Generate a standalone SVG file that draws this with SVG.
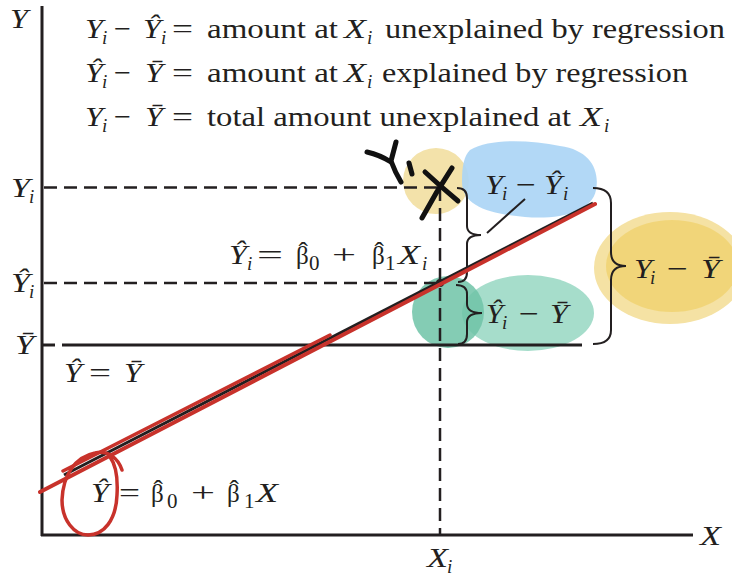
<svg xmlns="http://www.w3.org/2000/svg" width="732" height="576" viewBox="0 0 732 576">
<style>
text{font-family:"Liberation Serif","Times New Roman",serif;font-size:28px;fill:#231f20}
.it{font-style:italic}
.sb{font-size:19px}
.sd{font-size:21px}
.bt{font-size:25px}
.ax{stroke:#231f20;stroke-width:3;fill:none}
.dash{stroke:#231f20;stroke-width:2.5;stroke-dasharray:13 7;fill:none}
.br{stroke:#231f20;stroke-width:2;fill:none}
.red{stroke:#c8322b;fill:none;stroke-linecap:round;stroke-linejoin:round}
.hand{stroke:#111;stroke-width:5;fill:none;stroke-linecap:round;stroke-linejoin:round}
</style>
<rect width="732" height="576" fill="#ffffff"/>
<g id="highlights">
<circle cx="436" cy="181" r="33" fill="#f3e2aa"/>
<path d="M470,150 C490,138 530,140 560,146 C590,150 600,170 596,190 C592,212 560,220 525,217 C490,214 462,206 462,182 C462,166 464,156 470,150 Z" fill="#abd5f5" opacity="0.92"/>
<ellipse cx="528" cy="313" rx="66" ry="38" fill="#a6ddcb"/>
<circle cx="448" cy="312" r="36" fill="#6fc3a7" opacity="0.85"/>
<ellipse cx="670" cy="268" rx="76" ry="56" fill="#f5e2a4"/>
<ellipse cx="672" cy="266" rx="66" ry="46" fill="#f0d26e" opacity="0.8"/>
</g>
<g id="axes">
<line class="ax" x1="42" y1="6" x2="42" y2="536"/>
<line class="ax" x1="41" y1="535" x2="693" y2="535" stroke-width="2.5"/>
<line class="ax" x1="42" y1="345" x2="55" y2="345" stroke-width="2.5"/>
</g>
<g id="connectors">
<line class="dash" x1="44" y1="187.5" x2="440" y2="187.5"/>
<line class="dash" x1="44" y1="283" x2="440" y2="283"/>
<line class="dash" x1="440" y1="188" x2="440" y2="535"/>
<line class="ax" x1="62" y1="345" x2="582" y2="345" stroke-width="3.5"/>
<line class="ax" x1="64" y1="475" x2="593" y2="203" stroke-width="3.5"/>
<circle cx="440" cy="283" r="4" fill="#231f20"/>
<path class="br" d="M457,188 Q467,188 467,198 L467,226 Q467,235 481,235 Q467,235 467,244 L467,272 Q467,282 458,282"/>
<path class="br" d="M456,285 Q467,285 467,294 L467,304 Q467,313 482,313 Q467,313 467,322 L467,334 Q467,344 458,344"/>
<path class="br" d="M593,188 Q611,188 611,203 L611,252 Q611,266 626,266 Q611,266 611,280 L611,330 Q611,344 593,344"/>
<line class="br" x1="487" y1="233" x2="525" y2="199"/>
</g>
<g id="legend">
<text class="it" x="85" y="38" textLength="18" lengthAdjust="spacingAndGlyphs">Y</text><text class="it sb" x="102" y="44">i</text>
<text x="114" y="38" textLength="17" lengthAdjust="spacingAndGlyphs">−</text>
<text class="it" x="143" y="38" textLength="18" lengthAdjust="spacingAndGlyphs">Ŷ</text><text class="it sb" x="161" y="44">i</text>
<text x="172" y="38" textLength="21" lengthAdjust="spacingAndGlyphs">=</text>
<text x="207" y="38" textLength="131" lengthAdjust="spacingAndGlyphs">amount at</text>
<text class="it" x="344" y="38" textLength="22" lengthAdjust="spacingAndGlyphs">X</text><text class="it sb" x="367" y="44">i</text>
<text x="385" y="38" textLength="340" lengthAdjust="spacingAndGlyphs">unexplained by regression</text>

<text class="it" x="85" y="82" textLength="18" lengthAdjust="spacingAndGlyphs">Ŷ</text><text class="it sb" x="102" y="88">i</text>
<text x="114" y="82" textLength="17" lengthAdjust="spacingAndGlyphs">−</text>
<text class="it" x="145" y="82" textLength="18" lengthAdjust="spacingAndGlyphs">Ȳ</text>
<text x="172" y="82" textLength="21" lengthAdjust="spacingAndGlyphs">=</text>
<text x="207" y="82" textLength="131" lengthAdjust="spacingAndGlyphs">amount at</text>
<text class="it" x="344" y="82" textLength="22" lengthAdjust="spacingAndGlyphs">X</text><text class="it sb" x="367" y="88">i</text>
<text x="382" y="82" textLength="306" lengthAdjust="spacingAndGlyphs">explained by regression</text>

<text class="it" x="85" y="126" textLength="18" lengthAdjust="spacingAndGlyphs">Y</text><text class="it sb" x="102" y="132">i</text>
<text x="114" y="126" textLength="17" lengthAdjust="spacingAndGlyphs">−</text>
<text class="it" x="145" y="126" textLength="18" lengthAdjust="spacingAndGlyphs">Ȳ</text>
<text x="172" y="126" textLength="21" lengthAdjust="spacingAndGlyphs">=</text>
<text x="207" y="126" textLength="364" lengthAdjust="spacingAndGlyphs">total amount unexplained at</text>
<text class="it" x="580" y="126" textLength="22" lengthAdjust="spacingAndGlyphs">X</text><text class="it sb" x="604" y="132">i</text>
</g>
<g id="axis-labels">
<text class="it" x="10" y="28" textLength="18" lengthAdjust="spacingAndGlyphs">Y</text>
<text class="it" x="11" y="197" textLength="19" lengthAdjust="spacingAndGlyphs">Y</text><text class="it sb" x="29" y="203">i</text>
<text class="it" x="11" y="292" textLength="19" lengthAdjust="spacingAndGlyphs">Ŷ</text><text class="it sb" x="29" y="298">i</text>
<text class="it" x="15" y="354" textLength="19" lengthAdjust="spacingAndGlyphs">Ȳ</text>
<text class="it" x="700" y="545" textLength="21" lengthAdjust="spacingAndGlyphs">X</text>
<text class="it" x="427" y="567" textLength="21" lengthAdjust="spacingAndGlyphs">X</text><text class="it sb" x="447" y="573">i</text>
</g>
<g id="label-fit-i">
<text class="it" x="229" y="264" textLength="18" lengthAdjust="spacingAndGlyphs">Ŷ</text><text class="it sb" x="247" y="270">i</text>
<text x="257" y="264" textLength="26" lengthAdjust="spacingAndGlyphs">=</text>
<text x="296" y="264"><tspan class="bt">β</tspan><tspan x="298.5" dy="-3">ˆ</tspan><tspan class="sd" x="309" dy="9">0</tspan></text>
<text x="332" y="264" textLength="24" lengthAdjust="spacingAndGlyphs">+</text>
<text x="372" y="264"><tspan class="bt">β</tspan><tspan x="374.5" dy="-3">ˆ</tspan><tspan class="sd" x="385" dy="9">1</tspan></text>
<text class="it" x="398" y="264" textLength="22" lengthAdjust="spacingAndGlyphs">X</text><text class="it sb" x="422" y="270">i</text>
</g>
<g id="label-mean">
<text class="it" x="64" y="382" textLength="18" lengthAdjust="spacingAndGlyphs">Ŷ</text>
<text x="89" y="382" textLength="22" lengthAdjust="spacingAndGlyphs">=</text>
<text class="it" x="124" y="382" textLength="18" lengthAdjust="spacingAndGlyphs">Ȳ</text>
</g>
<g id="label-fit">
<text class="it" x="91" y="502" textLength="18" lengthAdjust="spacingAndGlyphs">Ŷ</text>
<text x="119" y="502" textLength="21" lengthAdjust="spacingAndGlyphs">=</text>
<text x="151" y="502"><tspan class="bt">β</tspan><tspan x="153.5" dy="-3">ˆ</tspan><tspan class="sd" x="167" dy="9">0</tspan></text>
<text x="191" y="502" textLength="24" lengthAdjust="spacingAndGlyphs">+</text>
<text x="227" y="502"><tspan class="bt">β</tspan><tspan x="229.5" dy="-3">ˆ</tspan><tspan class="sd" x="244" dy="9">1</tspan></text>
<text class="it" x="256" y="502" textLength="22" lengthAdjust="spacingAndGlyphs">X</text>
</g>
<g id="label-unexplained">
<text class="it" x="485" y="194" textLength="18" lengthAdjust="spacingAndGlyphs">Y</text><text class="it sb" x="502" y="200">i</text>
<text x="516" y="194" textLength="20" lengthAdjust="spacingAndGlyphs">−</text>
<text class="it" x="544" y="194" textLength="18" lengthAdjust="spacingAndGlyphs">Ŷ</text><text class="it sb" x="563" y="200">i</text>
</g>
<g id="label-explained">
<text class="it" x="486" y="323" textLength="17" lengthAdjust="spacingAndGlyphs">Ŷ</text><text class="it sb" x="502" y="329">i</text>
<text x="519" y="323" textLength="20" lengthAdjust="spacingAndGlyphs">−</text>
<text class="it" x="550" y="323" textLength="18" lengthAdjust="spacingAndGlyphs">Ȳ</text>
</g>
<g id="label-total">
<text class="it" x="634" y="278" textLength="18" lengthAdjust="spacingAndGlyphs">Y</text><text class="it sb" x="650" y="284">i</text>
<text x="667" y="278" textLength="21" lengthAdjust="spacingAndGlyphs">−</text>
<text class="it" x="701" y="278" textLength="19" lengthAdjust="spacingAndGlyphs">Ȳ</text>
</g>
<g id="annotations">
<path class="red" stroke-width="4" d="M40,492 L595,204"/>
<path class="red" stroke-width="3.5" d="M63,471 L330,335"/>
<path class="red" stroke-width="3.5" d="M122,470 C118,458 108,450 95,453 C75,457 63,475 62,500 C62,520 74,535 88,535 C104,535 116,520 117,495 C118,478 116,465 110,457"/>
<path class="hand" d="M367,152 Q380,155 391,162"/>
<path class="hand" d="M396,142 L391,161 Q395,172 401,182"/>
<path class="hand" d="M409,163 L412,174"/>
<path class="hand" stroke-width="6" d="M425,172 Q440,186 458,201"/>
<path class="hand" stroke-width="6" d="M452,168 Q436,192 422,218"/>
</g>
</svg>
